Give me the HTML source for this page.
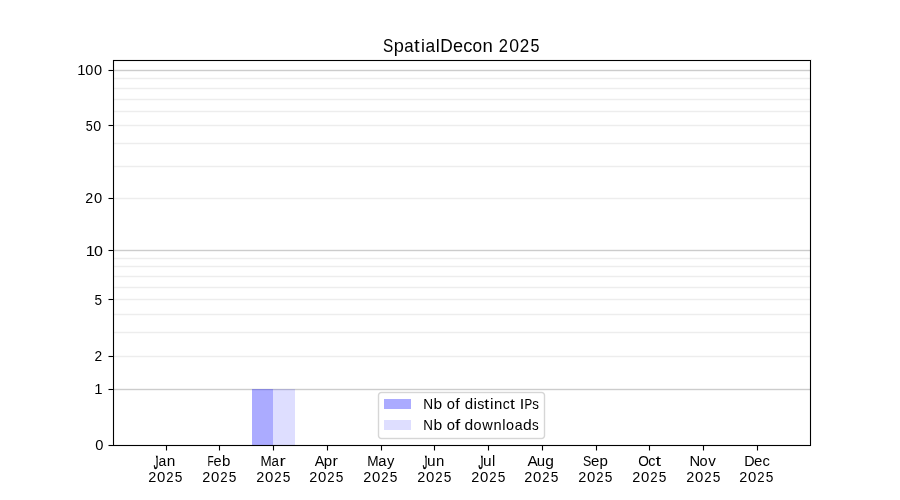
<!DOCTYPE html>
<html><head><meta charset="utf-8"><title>SpatialDecon 2025</title>
<style>html,body{margin:0;padding:0;background:#fff;}body{width:900px;height:500px;overflow:hidden;}svg{display:block;will-change:transform;}text{font-family:"Liberation Sans",sans-serif;fill:#000;}</style></head><body>
<svg width="900" height="500" viewBox="0 0 900 500">
<rect x="0" y="0" width="900" height="500" fill="#fff"/>
<g shape-rendering="crispEdges">
<rect x="113" y="77" width="697" height="1" fill="#fbfbfb"/>
<rect x="113" y="78" width="697" height="1" fill="#ededed"/>
<rect x="113" y="79" width="697" height="1" fill="#fbfbfb"/>
<rect x="113" y="87" width="697" height="1" fill="#fbfbfb"/>
<rect x="113" y="88" width="697" height="1" fill="#ededed"/>
<rect x="113" y="89" width="697" height="1" fill="#fbfbfb"/>
<rect x="113" y="98" width="697" height="1" fill="#fbfbfb"/>
<rect x="113" y="99" width="697" height="1" fill="#ededed"/>
<rect x="113" y="100" width="697" height="1" fill="#fbfbfb"/>
<rect x="113" y="110" width="697" height="1" fill="#fbfbfb"/>
<rect x="113" y="111" width="697" height="1" fill="#ededed"/>
<rect x="113" y="112" width="697" height="1" fill="#fbfbfb"/>
<rect x="113" y="124" width="697" height="1" fill="#fbfbfb"/>
<rect x="113" y="125" width="697" height="1" fill="#ededed"/>
<rect x="113" y="126" width="697" height="1" fill="#fbfbfb"/>
<rect x="113" y="142" width="697" height="1" fill="#fbfbfb"/>
<rect x="113" y="143" width="697" height="1" fill="#ededed"/>
<rect x="113" y="144" width="697" height="1" fill="#fbfbfb"/>
<rect x="113" y="165" width="697" height="1" fill="#fbfbfb"/>
<rect x="113" y="166" width="697" height="1" fill="#ededed"/>
<rect x="113" y="167" width="697" height="1" fill="#fbfbfb"/>
<rect x="113" y="197" width="697" height="1" fill="#fbfbfb"/>
<rect x="113" y="198" width="697" height="1" fill="#ededed"/>
<rect x="113" y="199" width="697" height="1" fill="#fbfbfb"/>
<rect x="113" y="257" width="697" height="1" fill="#fbfbfb"/>
<rect x="113" y="258" width="697" height="1" fill="#ededed"/>
<rect x="113" y="259" width="697" height="1" fill="#fbfbfb"/>
<rect x="113" y="265" width="697" height="1" fill="#fbfbfb"/>
<rect x="113" y="266" width="697" height="1" fill="#ededed"/>
<rect x="113" y="267" width="697" height="1" fill="#fbfbfb"/>
<rect x="113" y="275" width="697" height="1" fill="#fbfbfb"/>
<rect x="113" y="276" width="697" height="1" fill="#ededed"/>
<rect x="113" y="277" width="697" height="1" fill="#fbfbfb"/>
<rect x="113" y="286" width="697" height="1" fill="#fbfbfb"/>
<rect x="113" y="287" width="697" height="1" fill="#ededed"/>
<rect x="113" y="288" width="697" height="1" fill="#fbfbfb"/>
<rect x="113" y="298" width="697" height="1" fill="#fbfbfb"/>
<rect x="113" y="299" width="697" height="1" fill="#ededed"/>
<rect x="113" y="300" width="697" height="1" fill="#fbfbfb"/>
<rect x="113" y="313" width="697" height="1" fill="#fbfbfb"/>
<rect x="113" y="314" width="697" height="1" fill="#ededed"/>
<rect x="113" y="315" width="697" height="1" fill="#fbfbfb"/>
<rect x="113" y="331" width="697" height="1" fill="#fbfbfb"/>
<rect x="113" y="332" width="697" height="1" fill="#ededed"/>
<rect x="113" y="333" width="697" height="1" fill="#fbfbfb"/>
<rect x="113" y="355" width="697" height="1" fill="#fbfbfb"/>
<rect x="113" y="356" width="697" height="1" fill="#ededed"/>
<rect x="113" y="357" width="697" height="1" fill="#fbfbfb"/>
<rect x="113" y="69" width="697" height="1" fill="#f5f5f5"/>
<rect x="113" y="70" width="697" height="1" fill="#cccccc"/>
<rect x="113" y="71" width="697" height="1" fill="#f5f5f5"/>
<rect x="113" y="249" width="697" height="1" fill="#f5f5f5"/>
<rect x="113" y="250" width="697" height="1" fill="#cccccc"/>
<rect x="113" y="251" width="697" height="1" fill="#f5f5f5"/>
<rect x="113" y="388" width="697" height="1" fill="#f5f5f5"/>
<rect x="113" y="389" width="697" height="1" fill="#cccccc"/>
<rect x="113" y="390" width="697" height="1" fill="#f5f5f5"/>
<rect x="252" y="389" width="21" height="56" fill="#0000ff" fill-opacity="0.33"/>
<rect x="273" y="389" width="22" height="56" fill="#0000ff" fill-opacity="0.13"/>
<rect x="112" y="60" width="1" height="386" fill="#000" fill-opacity="0.055"/>
<rect x="114" y="61" width="1" height="384" fill="#000" fill-opacity="0.055"/>
<rect x="809" y="61" width="1" height="384" fill="#000" fill-opacity="0.055"/>
<rect x="811" y="59" width="1" height="387" fill="#000" fill-opacity="0.055"/>
<rect x="113" y="59" width="698" height="1" fill="#000" fill-opacity="0.055"/>
<rect x="114" y="61" width="695" height="1" fill="#000" fill-opacity="0.055"/>
<rect x="114" y="444" width="695" height="1" fill="#000" fill-opacity="0.055"/>
<rect x="112" y="446" width="699" height="1" fill="#000" fill-opacity="0.055"/>
<rect x="113" y="60" width="1" height="386" fill="#000"/>
<rect x="810" y="60" width="1" height="386" fill="#000"/>
<rect x="113" y="60" width="698" height="1" fill="#000"/>
<rect x="113" y="445" width="698" height="1" fill="#000"/>
<rect x="166" y="446" width="1" height="4" fill="#000"/>
<rect x="166" y="450" width="1" height="1" fill="#000" fill-opacity="0.5"/>
<rect x="165" y="446" width="1" height="4" fill="#000" fill-opacity="0.055"/>
<rect x="167" y="446" width="1" height="4" fill="#000" fill-opacity="0.055"/>
<rect x="165" y="450" width="1" height="1" fill="#000" fill-opacity="0.028"/>
<rect x="167" y="450" width="1" height="1" fill="#000" fill-opacity="0.028"/>
<rect x="219" y="446" width="1" height="4" fill="#000"/>
<rect x="219" y="450" width="1" height="1" fill="#000" fill-opacity="0.5"/>
<rect x="218" y="446" width="1" height="4" fill="#000" fill-opacity="0.055"/>
<rect x="220" y="446" width="1" height="4" fill="#000" fill-opacity="0.055"/>
<rect x="218" y="450" width="1" height="1" fill="#000" fill-opacity="0.028"/>
<rect x="220" y="450" width="1" height="1" fill="#000" fill-opacity="0.028"/>
<rect x="273" y="446" width="1" height="4" fill="#000"/>
<rect x="273" y="450" width="1" height="1" fill="#000" fill-opacity="0.5"/>
<rect x="272" y="446" width="1" height="4" fill="#000" fill-opacity="0.055"/>
<rect x="274" y="446" width="1" height="4" fill="#000" fill-opacity="0.055"/>
<rect x="272" y="450" width="1" height="1" fill="#000" fill-opacity="0.028"/>
<rect x="274" y="450" width="1" height="1" fill="#000" fill-opacity="0.028"/>
<rect x="327" y="446" width="1" height="4" fill="#000"/>
<rect x="327" y="450" width="1" height="1" fill="#000" fill-opacity="0.5"/>
<rect x="326" y="446" width="1" height="4" fill="#000" fill-opacity="0.055"/>
<rect x="328" y="446" width="1" height="4" fill="#000" fill-opacity="0.055"/>
<rect x="326" y="450" width="1" height="1" fill="#000" fill-opacity="0.028"/>
<rect x="328" y="450" width="1" height="1" fill="#000" fill-opacity="0.028"/>
<rect x="381" y="446" width="1" height="4" fill="#000"/>
<rect x="381" y="450" width="1" height="1" fill="#000" fill-opacity="0.5"/>
<rect x="380" y="446" width="1" height="4" fill="#000" fill-opacity="0.055"/>
<rect x="382" y="446" width="1" height="4" fill="#000" fill-opacity="0.055"/>
<rect x="380" y="450" width="1" height="1" fill="#000" fill-opacity="0.028"/>
<rect x="382" y="450" width="1" height="1" fill="#000" fill-opacity="0.028"/>
<rect x="434" y="446" width="1" height="4" fill="#000"/>
<rect x="434" y="450" width="1" height="1" fill="#000" fill-opacity="0.5"/>
<rect x="433" y="446" width="1" height="4" fill="#000" fill-opacity="0.055"/>
<rect x="435" y="446" width="1" height="4" fill="#000" fill-opacity="0.055"/>
<rect x="433" y="450" width="1" height="1" fill="#000" fill-opacity="0.028"/>
<rect x="435" y="450" width="1" height="1" fill="#000" fill-opacity="0.028"/>
<rect x="488" y="446" width="1" height="4" fill="#000"/>
<rect x="488" y="450" width="1" height="1" fill="#000" fill-opacity="0.5"/>
<rect x="487" y="446" width="1" height="4" fill="#000" fill-opacity="0.055"/>
<rect x="489" y="446" width="1" height="4" fill="#000" fill-opacity="0.055"/>
<rect x="487" y="450" width="1" height="1" fill="#000" fill-opacity="0.028"/>
<rect x="489" y="450" width="1" height="1" fill="#000" fill-opacity="0.028"/>
<rect x="542" y="446" width="1" height="4" fill="#000"/>
<rect x="542" y="450" width="1" height="1" fill="#000" fill-opacity="0.5"/>
<rect x="541" y="446" width="1" height="4" fill="#000" fill-opacity="0.055"/>
<rect x="543" y="446" width="1" height="4" fill="#000" fill-opacity="0.055"/>
<rect x="541" y="450" width="1" height="1" fill="#000" fill-opacity="0.028"/>
<rect x="543" y="450" width="1" height="1" fill="#000" fill-opacity="0.028"/>
<rect x="596" y="446" width="1" height="4" fill="#000"/>
<rect x="596" y="450" width="1" height="1" fill="#000" fill-opacity="0.5"/>
<rect x="595" y="446" width="1" height="4" fill="#000" fill-opacity="0.055"/>
<rect x="597" y="446" width="1" height="4" fill="#000" fill-opacity="0.055"/>
<rect x="595" y="450" width="1" height="1" fill="#000" fill-opacity="0.028"/>
<rect x="597" y="450" width="1" height="1" fill="#000" fill-opacity="0.028"/>
<rect x="649" y="446" width="1" height="4" fill="#000"/>
<rect x="649" y="450" width="1" height="1" fill="#000" fill-opacity="0.5"/>
<rect x="648" y="446" width="1" height="4" fill="#000" fill-opacity="0.055"/>
<rect x="650" y="446" width="1" height="4" fill="#000" fill-opacity="0.055"/>
<rect x="648" y="450" width="1" height="1" fill="#000" fill-opacity="0.028"/>
<rect x="650" y="450" width="1" height="1" fill="#000" fill-opacity="0.028"/>
<rect x="703" y="446" width="1" height="4" fill="#000"/>
<rect x="703" y="450" width="1" height="1" fill="#000" fill-opacity="0.5"/>
<rect x="702" y="446" width="1" height="4" fill="#000" fill-opacity="0.055"/>
<rect x="704" y="446" width="1" height="4" fill="#000" fill-opacity="0.055"/>
<rect x="702" y="450" width="1" height="1" fill="#000" fill-opacity="0.028"/>
<rect x="704" y="450" width="1" height="1" fill="#000" fill-opacity="0.028"/>
<rect x="757" y="446" width="1" height="4" fill="#000"/>
<rect x="757" y="450" width="1" height="1" fill="#000" fill-opacity="0.5"/>
<rect x="756" y="446" width="1" height="4" fill="#000" fill-opacity="0.055"/>
<rect x="758" y="446" width="1" height="4" fill="#000" fill-opacity="0.055"/>
<rect x="756" y="450" width="1" height="1" fill="#000" fill-opacity="0.028"/>
<rect x="758" y="450" width="1" height="1" fill="#000" fill-opacity="0.028"/>
<rect x="109" y="445" width="4" height="1" fill="#000"/>
<rect x="108" y="445" width="1" height="1" fill="#000" fill-opacity="0.5"/>
<rect x="109" y="444" width="3" height="1" fill="#000" fill-opacity="0.055"/>
<rect x="109" y="446" width="3" height="1" fill="#000" fill-opacity="0.055"/>
<rect x="108" y="444" width="1" height="1" fill="#000" fill-opacity="0.028"/>
<rect x="108" y="446" width="1" height="1" fill="#000" fill-opacity="0.028"/>
<rect x="109" y="389" width="4" height="1" fill="#000"/>
<rect x="108" y="389" width="1" height="1" fill="#000" fill-opacity="0.5"/>
<rect x="109" y="388" width="3" height="1" fill="#000" fill-opacity="0.055"/>
<rect x="109" y="390" width="3" height="1" fill="#000" fill-opacity="0.055"/>
<rect x="108" y="388" width="1" height="1" fill="#000" fill-opacity="0.028"/>
<rect x="108" y="390" width="1" height="1" fill="#000" fill-opacity="0.028"/>
<rect x="109" y="356" width="4" height="1" fill="#000"/>
<rect x="108" y="356" width="1" height="1" fill="#000" fill-opacity="0.5"/>
<rect x="109" y="355" width="3" height="1" fill="#000" fill-opacity="0.055"/>
<rect x="109" y="357" width="3" height="1" fill="#000" fill-opacity="0.055"/>
<rect x="108" y="355" width="1" height="1" fill="#000" fill-opacity="0.028"/>
<rect x="108" y="357" width="1" height="1" fill="#000" fill-opacity="0.028"/>
<rect x="109" y="299" width="4" height="1" fill="#000"/>
<rect x="108" y="299" width="1" height="1" fill="#000" fill-opacity="0.5"/>
<rect x="109" y="298" width="3" height="1" fill="#000" fill-opacity="0.055"/>
<rect x="109" y="300" width="3" height="1" fill="#000" fill-opacity="0.055"/>
<rect x="108" y="298" width="1" height="1" fill="#000" fill-opacity="0.028"/>
<rect x="108" y="300" width="1" height="1" fill="#000" fill-opacity="0.028"/>
<rect x="109" y="250" width="4" height="1" fill="#000"/>
<rect x="108" y="250" width="1" height="1" fill="#000" fill-opacity="0.5"/>
<rect x="109" y="249" width="3" height="1" fill="#000" fill-opacity="0.055"/>
<rect x="109" y="251" width="3" height="1" fill="#000" fill-opacity="0.055"/>
<rect x="108" y="249" width="1" height="1" fill="#000" fill-opacity="0.028"/>
<rect x="108" y="251" width="1" height="1" fill="#000" fill-opacity="0.028"/>
<rect x="109" y="198" width="4" height="1" fill="#000"/>
<rect x="108" y="198" width="1" height="1" fill="#000" fill-opacity="0.5"/>
<rect x="109" y="197" width="3" height="1" fill="#000" fill-opacity="0.055"/>
<rect x="109" y="199" width="3" height="1" fill="#000" fill-opacity="0.055"/>
<rect x="108" y="197" width="1" height="1" fill="#000" fill-opacity="0.028"/>
<rect x="108" y="199" width="1" height="1" fill="#000" fill-opacity="0.028"/>
<rect x="109" y="125" width="4" height="1" fill="#000"/>
<rect x="108" y="125" width="1" height="1" fill="#000" fill-opacity="0.5"/>
<rect x="109" y="124" width="3" height="1" fill="#000" fill-opacity="0.055"/>
<rect x="109" y="126" width="3" height="1" fill="#000" fill-opacity="0.055"/>
<rect x="108" y="124" width="1" height="1" fill="#000" fill-opacity="0.028"/>
<rect x="108" y="126" width="1" height="1" fill="#000" fill-opacity="0.028"/>
<rect x="109" y="70" width="4" height="1" fill="#000"/>
<rect x="108" y="70" width="1" height="1" fill="#000" fill-opacity="0.5"/>
<rect x="109" y="69" width="3" height="1" fill="#000" fill-opacity="0.055"/>
<rect x="109" y="71" width="3" height="1" fill="#000" fill-opacity="0.055"/>
<rect x="108" y="69" width="1" height="1" fill="#000" fill-opacity="0.028"/>
<rect x="108" y="71" width="1" height="1" fill="#000" fill-opacity="0.028"/>
<rect x="379" y="393" width="165" height="45" fill="#fff"/>
<rect x="381" y="392" width="161" height="1" fill="#d6d6d6"/>
<rect x="381" y="438" width="161" height="1" fill="#d6d6d6"/>
<rect x="378" y="396" width="1" height="39" fill="#d6d6d6"/>
<rect x="544" y="396" width="1" height="39" fill="#d6d6d6"/>
<rect x="381" y="391" width="161" height="1" fill="#f7f7f7"/>
<rect x="382" y="393" width="159" height="1" fill="#f7f7f7"/>
<rect x="382" y="437" width="159" height="1" fill="#f7f7f7"/>
<rect x="381" y="439" width="161" height="1" fill="#f7f7f7"/>
<rect x="377" y="396" width="1" height="39" fill="#f7f7f7"/>
<rect x="379" y="396" width="1" height="39" fill="#f7f7f7"/>
<rect x="543" y="396" width="1" height="39" fill="#f7f7f7"/>
<rect x="545" y="396" width="1" height="39" fill="#f7f7f7"/>
<rect x="378" y="392" width="1" height="1" fill="#fefefe"/>
<rect x="544" y="392" width="1" height="1" fill="#fefefe"/>
<rect x="378" y="438" width="1" height="1" fill="#fefefe"/>
<rect x="544" y="438" width="1" height="1" fill="#fefefe"/>
<rect x="379" y="392" width="1" height="1" fill="#e6e6e6"/>
<rect x="543" y="392" width="1" height="1" fill="#e6e6e6"/>
<rect x="379" y="438" width="1" height="1" fill="#e6e6e6"/>
<rect x="543" y="438" width="1" height="1" fill="#e6e6e6"/>
<rect x="380" y="392" width="1" height="1" fill="#d6d6d6"/>
<rect x="542" y="392" width="1" height="1" fill="#d6d6d6"/>
<rect x="380" y="438" width="1" height="1" fill="#d6d6d6"/>
<rect x="542" y="438" width="1" height="1" fill="#d6d6d6"/>
<rect x="380" y="391" width="1" height="1" fill="#fcfcfc"/>
<rect x="542" y="391" width="1" height="1" fill="#fcfcfc"/>
<rect x="380" y="439" width="1" height="1" fill="#fcfcfc"/>
<rect x="542" y="439" width="1" height="1" fill="#fcfcfc"/>
<rect x="378" y="393" width="1" height="1" fill="#e6e6e6"/>
<rect x="544" y="393" width="1" height="1" fill="#e6e6e6"/>
<rect x="378" y="437" width="1" height="1" fill="#e6e6e6"/>
<rect x="544" y="437" width="1" height="1" fill="#e6e6e6"/>
<rect x="379" y="393" width="1" height="1" fill="#d6d6d6"/>
<rect x="543" y="393" width="1" height="1" fill="#d6d6d6"/>
<rect x="379" y="437" width="1" height="1" fill="#d6d6d6"/>
<rect x="543" y="437" width="1" height="1" fill="#d6d6d6"/>
<rect x="380" y="393" width="1" height="1" fill="#ececec"/>
<rect x="542" y="393" width="1" height="1" fill="#ececec"/>
<rect x="380" y="437" width="1" height="1" fill="#ececec"/>
<rect x="542" y="437" width="1" height="1" fill="#ececec"/>
<rect x="381" y="393" width="1" height="1" fill="#f6f6f6"/>
<rect x="541" y="393" width="1" height="1" fill="#f6f6f6"/>
<rect x="381" y="437" width="1" height="1" fill="#f6f6f6"/>
<rect x="541" y="437" width="1" height="1" fill="#f6f6f6"/>
<rect x="377" y="394" width="1" height="1" fill="#fcfcfc"/>
<rect x="545" y="394" width="1" height="1" fill="#fcfcfc"/>
<rect x="377" y="436" width="1" height="1" fill="#fcfcfc"/>
<rect x="545" y="436" width="1" height="1" fill="#fcfcfc"/>
<rect x="378" y="394" width="1" height="1" fill="#d6d6d6"/>
<rect x="544" y="394" width="1" height="1" fill="#d6d6d6"/>
<rect x="378" y="436" width="1" height="1" fill="#d6d6d6"/>
<rect x="544" y="436" width="1" height="1" fill="#d6d6d6"/>
<rect x="379" y="394" width="1" height="1" fill="#ececec"/>
<rect x="543" y="394" width="1" height="1" fill="#ececec"/>
<rect x="379" y="436" width="1" height="1" fill="#ececec"/>
<rect x="543" y="436" width="1" height="1" fill="#ececec"/>
<rect x="377" y="395" width="1" height="1" fill="#f7f7f7"/>
<rect x="545" y="395" width="1" height="1" fill="#f7f7f7"/>
<rect x="377" y="435" width="1" height="1" fill="#f7f7f7"/>
<rect x="545" y="435" width="1" height="1" fill="#f7f7f7"/>
<rect x="378" y="395" width="1" height="1" fill="#d6d6d6"/>
<rect x="544" y="395" width="1" height="1" fill="#d6d6d6"/>
<rect x="378" y="435" width="1" height="1" fill="#d6d6d6"/>
<rect x="544" y="435" width="1" height="1" fill="#d6d6d6"/>
<rect x="379" y="395" width="1" height="1" fill="#f6f6f6"/>
<rect x="543" y="395" width="1" height="1" fill="#f6f6f6"/>
<rect x="379" y="435" width="1" height="1" fill="#f6f6f6"/>
<rect x="543" y="435" width="1" height="1" fill="#f6f6f6"/>
<rect x="384" y="399" width="27" height="10" fill="#0000ff" fill-opacity="0.33"/>
<rect x="384" y="420" width="27" height="10" fill="#0000ff" fill-opacity="0.13"/>
</g>
<text><tspan x="382.88" y="52.11" font-size="18.621" textLength="10.258" lengthAdjust="spacingAndGlyphs">S</tspan><tspan x="393.82" y="51.63" font-size="18.721" textLength="10.135" lengthAdjust="spacingAndGlyphs">p</tspan><tspan x="404.19" y="51.72" font-size="17.628" textLength="9.382" lengthAdjust="spacingAndGlyphs">a</tspan><tspan x="414.08" y="51.7" font-size="18.422" textLength="5.660" lengthAdjust="spacingAndGlyphs">t</tspan><tspan x="420.9" y="51.65" font-size="17.724" textLength="3.918" lengthAdjust="spacingAndGlyphs">i</tspan><tspan x="425.43" y="51.72" font-size="17.628" textLength="9.633" lengthAdjust="spacingAndGlyphs">a</tspan><tspan x="435.68" y="52.25" font-size="18.552" textLength="4.032" lengthAdjust="spacingAndGlyphs">l</tspan><tspan x="440.2" y="51.75" font-size="18.947" textLength="12.515" lengthAdjust="spacingAndGlyphs">D</tspan><tspan x="452.97" y="52.11" font-size="18.358" textLength="10.062" lengthAdjust="spacingAndGlyphs">e</tspan><tspan x="463.19" y="51.71" font-size="18.509" textLength="9.160" lengthAdjust="spacingAndGlyphs">c</tspan><tspan x="472.41" y="51.92" font-size="17.993" textLength="9.606" lengthAdjust="spacingAndGlyphs">o</tspan><tspan x="482.6" y="51.95" font-size="18.956" textLength="10.345" lengthAdjust="spacingAndGlyphs">n</tspan> <tspan x="498.8" y="51.85" font-size="18.247" textLength="9.181" lengthAdjust="spacingAndGlyphs">2</tspan><tspan x="509.31" y="51.71" font-size="18.959" textLength="9.820" lengthAdjust="spacingAndGlyphs">0</tspan><tspan x="519.87" y="51.85" font-size="18.247" textLength="9.465" lengthAdjust="spacingAndGlyphs">2</tspan><tspan x="530.57" y="51.81" font-size="19.048" textLength="8.990" lengthAdjust="spacingAndGlyphs">5</tspan></text>
<text><tspan x="153.73" y="468.78" font-size="17.618" textLength="4.460" lengthAdjust="spacingAndGlyphs" stroke="#000" stroke-width="0.5">J</tspan><tspan x="158.5" y="465.73" font-size="15.255" textLength="7.780" lengthAdjust="spacingAndGlyphs">a</tspan><tspan x="166.69" y="466.37" font-size="15.370" textLength="8.578" lengthAdjust="spacingAndGlyphs">n</tspan></text>
<text><tspan x="148.29" y="481.96" font-size="14.915" textLength="8.032" lengthAdjust="spacingAndGlyphs">2</tspan><tspan x="157.02" y="481.91" font-size="14.851" textLength="8.317" lengthAdjust="spacingAndGlyphs">0</tspan><tspan x="166.18" y="482.06" font-size="15.058" textLength="7.309" lengthAdjust="spacingAndGlyphs">2</tspan><tspan x="174.68" y="481.81" font-size="15.025" textLength="7.625" lengthAdjust="spacingAndGlyphs">5</tspan></text>
<text><tspan x="207.46" y="465.58" font-size="14.853" textLength="6.207" lengthAdjust="spacingAndGlyphs">F</tspan><tspan x="213.38" y="465.54" font-size="14.847" textLength="8.093" lengthAdjust="spacingAndGlyphs">e</tspan><tspan x="221.97" y="465.93" font-size="15.568" textLength="8.396" lengthAdjust="spacingAndGlyphs">b</tspan></text>
<text><tspan x="202.14" y="481.96" font-size="14.915" textLength="8.032" lengthAdjust="spacingAndGlyphs">2</tspan><tspan x="211.02" y="481.91" font-size="14.851" textLength="8.317" lengthAdjust="spacingAndGlyphs">0</tspan><tspan x="220.18" y="482.06" font-size="15.058" textLength="7.309" lengthAdjust="spacingAndGlyphs">2</tspan><tspan x="228.68" y="481.81" font-size="15.025" textLength="7.625" lengthAdjust="spacingAndGlyphs">5</tspan></text>
<text><tspan x="260.43" y="466.06" font-size="15.451" textLength="11.162" lengthAdjust="spacingAndGlyphs">M</tspan><tspan x="271.45" y="466.32" font-size="15.295" textLength="7.416" lengthAdjust="spacingAndGlyphs">a</tspan><tspan x="279.54" y="466.26" font-size="14.812" textLength="6.189" lengthAdjust="spacingAndGlyphs">r</tspan></text>
<text><tspan x="256.14" y="481.96" font-size="14.915" textLength="8.032" lengthAdjust="spacingAndGlyphs">2</tspan><tspan x="265.02" y="481.91" font-size="14.851" textLength="8.317" lengthAdjust="spacingAndGlyphs">0</tspan><tspan x="274.18" y="482.06" font-size="15.058" textLength="7.309" lengthAdjust="spacingAndGlyphs">2</tspan><tspan x="282.68" y="481.81" font-size="15.025" textLength="7.625" lengthAdjust="spacingAndGlyphs">5</tspan></text>
<text><tspan x="314.74" y="466.32" font-size="14.327" textLength="9.580" lengthAdjust="spacingAndGlyphs">A</tspan><tspan x="323.69" y="465.82" font-size="14.473" textLength="8.370" lengthAdjust="spacingAndGlyphs">p</tspan><tspan x="332.6" y="466.42" font-size="14.332" textLength="5.370" lengthAdjust="spacingAndGlyphs">r</tspan></text>
<text><tspan x="309.14" y="481.96" font-size="14.915" textLength="8.032" lengthAdjust="spacingAndGlyphs">2</tspan><tspan x="318.02" y="481.91" font-size="14.851" textLength="8.317" lengthAdjust="spacingAndGlyphs">0</tspan><tspan x="327.18" y="482.06" font-size="15.058" textLength="7.309" lengthAdjust="spacingAndGlyphs">2</tspan><tspan x="335.68" y="481.81" font-size="15.025" textLength="7.625" lengthAdjust="spacingAndGlyphs">5</tspan></text>
<text><tspan x="367.35" y="466.22" font-size="14.469" textLength="11.330" lengthAdjust="spacingAndGlyphs">M</tspan><tspan x="378.31" y="466.47" font-size="15.469" textLength="8.241" lengthAdjust="spacingAndGlyphs">a</tspan><tspan x="387.03" y="465.9" font-size="14.333" textLength="7.382" lengthAdjust="spacingAndGlyphs">y</tspan></text>
<text><tspan x="363.14" y="481.96" font-size="14.915" textLength="8.032" lengthAdjust="spacingAndGlyphs">2</tspan><tspan x="372.02" y="481.91" font-size="14.851" textLength="8.317" lengthAdjust="spacingAndGlyphs">0</tspan><tspan x="381.18" y="482.06" font-size="15.058" textLength="7.309" lengthAdjust="spacingAndGlyphs">2</tspan><tspan x="389.68" y="481.81" font-size="15.025" textLength="7.625" lengthAdjust="spacingAndGlyphs">5</tspan></text>
<text><tspan x="422.74" y="468.67" font-size="18.741" textLength="4.449" lengthAdjust="spacingAndGlyphs" stroke="#000" stroke-width="0.5">J</tspan><tspan x="426.99" y="466.41" font-size="15.408" textLength="8.563" lengthAdjust="spacingAndGlyphs">u</tspan><tspan x="435.97" y="466.37" font-size="14.322" textLength="8.321" lengthAdjust="spacingAndGlyphs">n</tspan></text>
<text><tspan x="417.29" y="481.96" font-size="14.915" textLength="8.032" lengthAdjust="spacingAndGlyphs">2</tspan><tspan x="426.02" y="481.91" font-size="14.851" textLength="8.317" lengthAdjust="spacingAndGlyphs">0</tspan><tspan x="435.18" y="482.06" font-size="15.058" textLength="7.309" lengthAdjust="spacingAndGlyphs">2</tspan><tspan x="443.68" y="481.81" font-size="15.025" textLength="7.625" lengthAdjust="spacingAndGlyphs">5</tspan></text>
<text><tspan x="478.4" y="468.83" font-size="17.619" textLength="4.736" lengthAdjust="spacingAndGlyphs" stroke="#000" stroke-width="0.5">J</tspan><tspan x="483.05" y="465.99" font-size="14.376" textLength="8.599" lengthAdjust="spacingAndGlyphs">u</tspan><tspan x="492.08" y="466.34" font-size="14.766" textLength="3.257" lengthAdjust="spacingAndGlyphs">l</tspan></text>
<text><tspan x="471.14" y="481.96" font-size="14.915" textLength="8.032" lengthAdjust="spacingAndGlyphs">2</tspan><tspan x="480.02" y="481.91" font-size="14.851" textLength="8.317" lengthAdjust="spacingAndGlyphs">0</tspan><tspan x="489.18" y="482.06" font-size="15.058" textLength="7.309" lengthAdjust="spacingAndGlyphs">2</tspan><tspan x="497.68" y="481.81" font-size="15.025" textLength="7.625" lengthAdjust="spacingAndGlyphs">5</tspan></text>
<text><tspan x="527.41" y="466.12" font-size="14.923" textLength="10.213" lengthAdjust="spacingAndGlyphs">A</tspan><tspan x="536.72" y="466.17" font-size="15.414" textLength="8.341" lengthAdjust="spacingAndGlyphs">u</tspan><tspan x="545.32" y="466.03" font-size="14.909" textLength="8.668" lengthAdjust="spacingAndGlyphs">g</tspan></text>
<text><tspan x="524.14" y="481.96" font-size="14.915" textLength="8.032" lengthAdjust="spacingAndGlyphs">2</tspan><tspan x="533.02" y="481.91" font-size="14.851" textLength="8.317" lengthAdjust="spacingAndGlyphs">0</tspan><tspan x="542.18" y="482.06" font-size="15.058" textLength="7.309" lengthAdjust="spacingAndGlyphs">2</tspan><tspan x="550.68" y="481.81" font-size="15.025" textLength="7.625" lengthAdjust="spacingAndGlyphs">5</tspan></text>
<text><tspan x="582.91" y="465.97" font-size="13.981" textLength="8.258" lengthAdjust="spacingAndGlyphs">S</tspan><tspan x="590.9" y="466.06" font-size="14.825" textLength="8.343" lengthAdjust="spacingAndGlyphs">e</tspan><tspan x="599.61" y="466.13" font-size="14.245" textLength="8.404" lengthAdjust="spacingAndGlyphs">p</tspan></text>
<text><tspan x="578.14" y="481.96" font-size="14.915" textLength="8.032" lengthAdjust="spacingAndGlyphs">2</tspan><tspan x="587.02" y="481.91" font-size="14.851" textLength="8.317" lengthAdjust="spacingAndGlyphs">0</tspan><tspan x="596.18" y="482.06" font-size="15.058" textLength="7.309" lengthAdjust="spacingAndGlyphs">2</tspan><tspan x="604.68" y="481.81" font-size="15.025" textLength="7.625" lengthAdjust="spacingAndGlyphs">5</tspan></text>
<text><tspan x="638.22" y="466.41" font-size="15.169" textLength="10.639" lengthAdjust="spacingAndGlyphs">O</tspan><tspan x="648.19" y="465.92" font-size="13.759" textLength="7.125" lengthAdjust="spacingAndGlyphs">c</tspan><tspan x="655.62" y="465.94" font-size="15.203" textLength="5.572" lengthAdjust="spacingAndGlyphs">t</tspan></text>
<text><tspan x="632.14" y="481.96" font-size="14.915" textLength="8.032" lengthAdjust="spacingAndGlyphs">2</tspan><tspan x="641.02" y="481.91" font-size="14.851" textLength="8.317" lengthAdjust="spacingAndGlyphs">0</tspan><tspan x="650.18" y="482.06" font-size="15.058" textLength="7.309" lengthAdjust="spacingAndGlyphs">2</tspan><tspan x="658.68" y="481.81" font-size="15.025" textLength="7.625" lengthAdjust="spacingAndGlyphs">5</tspan></text>
<text><tspan x="689.43" y="465.96" font-size="14.423" textLength="10.659" lengthAdjust="spacingAndGlyphs">N</tspan><tspan x="699.57" y="465.81" font-size="14.596" textLength="8.085" lengthAdjust="spacingAndGlyphs">o</tspan><tspan x="708.17" y="465.96" font-size="14.089" textLength="7.607" lengthAdjust="spacingAndGlyphs">v</tspan></text>
<text><tspan x="686.14" y="481.96" font-size="14.915" textLength="8.032" lengthAdjust="spacingAndGlyphs">2</tspan><tspan x="695.02" y="481.91" font-size="14.851" textLength="8.317" lengthAdjust="spacingAndGlyphs">0</tspan><tspan x="704.18" y="482.06" font-size="15.058" textLength="7.309" lengthAdjust="spacingAndGlyphs">2</tspan><tspan x="712.68" y="481.81" font-size="15.025" textLength="7.625" lengthAdjust="spacingAndGlyphs">5</tspan></text>
<text><tspan x="744.35" y="465.76" font-size="13.779" textLength="10.364" lengthAdjust="spacingAndGlyphs">D</tspan><tspan x="754.09" y="465.92" font-size="14.436" textLength="8.333" lengthAdjust="spacingAndGlyphs">e</tspan><tspan x="762.45" y="465.82" font-size="13.901" textLength="7.404" lengthAdjust="spacingAndGlyphs">c</tspan></text>
<text><tspan x="739.14" y="481.96" font-size="14.915" textLength="8.032" lengthAdjust="spacingAndGlyphs">2</tspan><tspan x="748.02" y="481.91" font-size="14.851" textLength="8.317" lengthAdjust="spacingAndGlyphs">0</tspan><tspan x="757.18" y="482.06" font-size="15.058" textLength="7.309" lengthAdjust="spacingAndGlyphs">2</tspan><tspan x="765.68" y="481.81" font-size="15.025" textLength="7.625" lengthAdjust="spacingAndGlyphs">5</tspan></text>
<text><tspan x="95.17" y="450.11" font-size="15.134" textLength="8.163" lengthAdjust="spacingAndGlyphs">0</tspan></text>
<text><tspan x="94.15" y="394.06" font-size="14.717" textLength="8.302" lengthAdjust="spacingAndGlyphs">1</tspan></text>
<text><tspan x="94.42" y="361.15" font-size="15.390" textLength="7.652" lengthAdjust="spacingAndGlyphs">2</tspan></text>
<text><tspan x="94.5" y="305.21" font-size="15.005" textLength="7.531" lengthAdjust="spacingAndGlyphs">5</tspan></text>
<text><tspan x="85.72" y="255.76" font-size="14.060" textLength="9.107" lengthAdjust="spacingAndGlyphs">1</tspan><tspan x="94.14" y="256.11" font-size="14.615" textLength="8.939" lengthAdjust="spacingAndGlyphs">0</tspan></text>
<text><tspan x="85.14" y="203.06" font-size="14.682" textLength="7.907" lengthAdjust="spacingAndGlyphs">2</tspan><tspan x="94.02" y="202.91" font-size="14.851" textLength="8.204" lengthAdjust="spacingAndGlyphs">0</tspan></text>
<text><tspan x="85.7" y="131.11" font-size="15.311" textLength="6.995" lengthAdjust="spacingAndGlyphs">5</tspan><tspan x="93.37" y="131.01" font-size="15.215" textLength="7.933" lengthAdjust="spacingAndGlyphs">0</tspan></text>
<text><tspan x="77.18" y="74.86" font-size="14.058" textLength="8.202" lengthAdjust="spacingAndGlyphs">1</tspan><tspan x="85.39" y="74.91" font-size="14.184" textLength="8.102" lengthAdjust="spacingAndGlyphs">0</tspan><tspan x="93.93" y="74.91" font-size="14.184" textLength="8.102" lengthAdjust="spacingAndGlyphs">0</tspan></text>
<text><tspan x="423.35" y="409.08" font-size="15.151" textLength="9.853" lengthAdjust="spacingAndGlyphs">N</tspan><tspan x="433.64" y="408.53" font-size="14.574" textLength="8.635" lengthAdjust="spacingAndGlyphs">b</tspan> <tspan x="446.86" y="408.54" font-size="14.047" textLength="8.186" lengthAdjust="spacingAndGlyphs">o</tspan><tspan x="455.26" y="408.58" font-size="14.656" textLength="4.498" lengthAdjust="spacingAndGlyphs">f</tspan> <tspan x="464.65" y="408.93" font-size="14.763" textLength="8.375" lengthAdjust="spacingAndGlyphs">d</tspan><tspan x="473.49" y="408.88" font-size="14.693" textLength="3.534" lengthAdjust="spacingAndGlyphs">i</tspan><tspan x="477.36" y="408.83" font-size="14.633" textLength="7.072" lengthAdjust="spacingAndGlyphs">s</tspan><tspan x="484.34" y="408.77" font-size="14.308" textLength="4.894" lengthAdjust="spacingAndGlyphs">t</tspan><tspan x="490.03" y="408.88" font-size="14.693" textLength="3.534" lengthAdjust="spacingAndGlyphs">i</tspan><tspan x="493.99" y="408.78" font-size="14.497" textLength="8.324" lengthAdjust="spacingAndGlyphs">n</tspan><tspan x="502.69" y="408.93" font-size="14.777" textLength="6.976" lengthAdjust="spacingAndGlyphs">c</tspan><tspan x="510.09" y="408.77" font-size="14.308" textLength="4.894" lengthAdjust="spacingAndGlyphs">t</tspan> <tspan x="519.81" y="408.88" font-size="14.860" textLength="4.517" lengthAdjust="spacingAndGlyphs">I</tspan><tspan x="524.43" y="408.78" font-size="14.347" textLength="7.691" lengthAdjust="spacingAndGlyphs">P</tspan><tspan x="532.32" y="408.93" font-size="14.816" textLength="6.672" lengthAdjust="spacingAndGlyphs">s</tspan></text>
<text><tspan x="423.36" y="429.68" font-size="14.645" textLength="9.662" lengthAdjust="spacingAndGlyphs">N</tspan><tspan x="433.51" y="429.53" font-size="15.436" textLength="8.719" lengthAdjust="spacingAndGlyphs">b</tspan> <tspan x="446.74" y="430.04" font-size="14.217" textLength="8.264" lengthAdjust="spacingAndGlyphs">o</tspan><tspan x="455.08" y="429.88" font-size="15.551" textLength="5.257" lengthAdjust="spacingAndGlyphs">f</tspan> <tspan x="464.4" y="429.83" font-size="15.468" textLength="8.710" lengthAdjust="spacingAndGlyphs">d</tspan><tspan x="473.49" y="429.95" font-size="14.052" textLength="8.008" lengthAdjust="spacingAndGlyphs">o</tspan><tspan x="482.15" y="429.88" font-size="15.438" textLength="10.518" lengthAdjust="spacingAndGlyphs">w</tspan><tspan x="493.46" y="429.68" font-size="14.386" textLength="8.122" lengthAdjust="spacingAndGlyphs">n</tspan><tspan x="502.19" y="429.68" font-size="14.492" textLength="3.273" lengthAdjust="spacingAndGlyphs">l</tspan><tspan x="506" y="429.95" font-size="14.052" textLength="8.008" lengthAdjust="spacingAndGlyphs">o</tspan><tspan x="514.67" y="429.55" font-size="13.767" textLength="7.855" lengthAdjust="spacingAndGlyphs">a</tspan><tspan x="523.05" y="429.83" font-size="15.468" textLength="8.710" lengthAdjust="spacingAndGlyphs">d</tspan><tspan x="531.94" y="429.54" font-size="14.924" textLength="6.699" lengthAdjust="spacingAndGlyphs">s</tspan></text>
<rect x="155" y="455.5" width="1" height="2.5" fill="#fff"/>
<rect x="424" y="455.5" width="1" height="2.5" fill="#fff"/>
<rect x="480" y="455.5" width="1" height="2.5" fill="#fff"/>
</svg>
</body></html>
